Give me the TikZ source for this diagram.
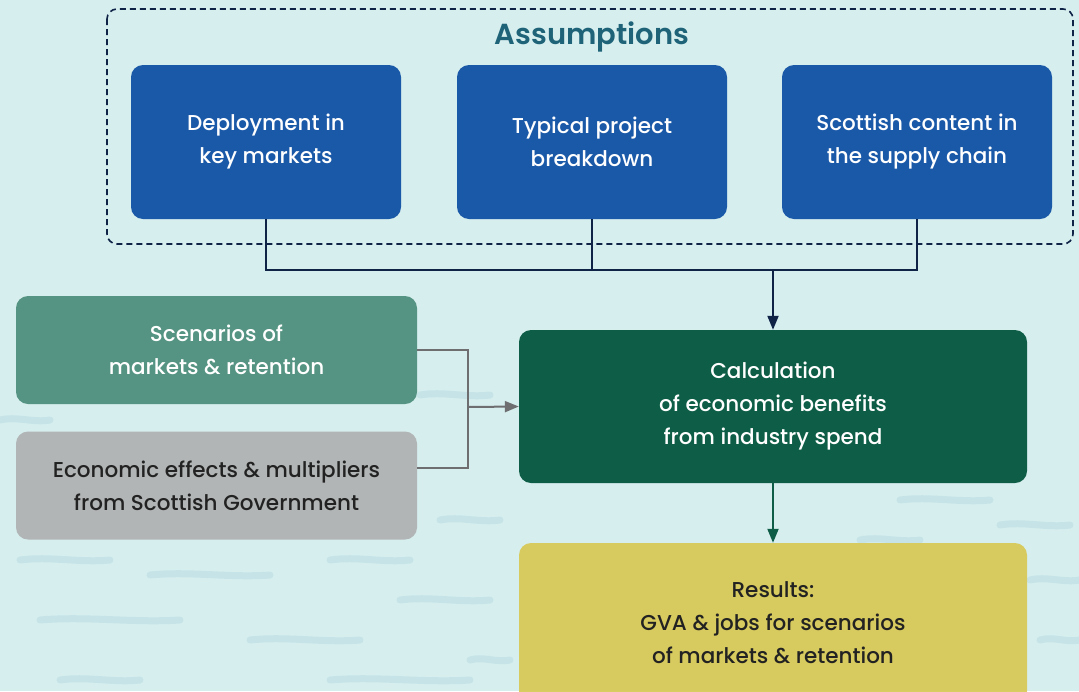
\documentclass[tikz,border=0pt]{standalone}
\usepackage{fontspec}
\setmainfont{Poppins}[UprightFont=* Medium, BoldFont=* SemiBold]
\usetikzlibrary{arrows.meta}
\definecolor{bgsea}{HTML}{D6EEEE}
\definecolor{wavecol}{HTML}{C6E4E7}
\definecolor{navy}{HTML}{0F2347}
\definecolor{tealhead}{HTML}{1E6378}
\definecolor{bluebox}{HTML}{1A58A8}
\definecolor{darkgreen}{HTML}{0E5E47}
\definecolor{midgreen}{HTML}{559482}
\definecolor{greybox}{HTML}{B2B5B5}
\definecolor{greyline}{HTML}{6E6E70}
\definecolor{yellowbox}{HTML}{D8C957}
\definecolor{darktext}{HTML}{222222}

\begin{document}
\begin{tikzpicture}[x=1pt, y=-1pt,
    box/.style={rectangle, rounded corners=12, align=center, font=\fontsize{21.5}{33}\selectfont},
    assume/.style={box, fill=bluebox, text=white, minimum width=270pt, minimum height=154pt},
    side/.style={box, minimum width=401pt, minimum height=108pt},
    wide/.style={box, minimum width=508pt, minimum height=153pt},
    nv/.style={draw=navy, line width=2pt},
    gy/.style={draw=greyline, line width=2pt},
    tip/.style={-{Triangle[length=14pt, width=11pt]}},
    wave/.style={draw=wavecol, line width=7pt, line cap=round}]
        % background
        \fill[bgsea] (0,0) rectangle (1079,691);
        \clip (0,0) rectangle (1079,691);
        \foreach \x/\y/\l in {0/420/50, 60/470/40, 420/395/70, 20/560/90, 150/575/120, 330/560/80,
                              440/520/60, 900/500/90, 1000/525/70, 40/620/140, 250/640/110, 400/600/90,
                              60/680/80, 330/680/140, 1030/580/50, 1040/640/40, 470/660/40, 860/540/60}
            \draw[wave] (\x,\y) .. controls (\x+\l/3,\y-4) and (\x+2*\l/3,\y+3) .. (\x+\l,\y);
        % nodes
        \draw[navy, dash pattern=on 6pt off 4pt, line width=1.6pt, rounded corners=10] (107,9) rectangle (1073,244);
        \node[text=tealhead, font=\fontsize{29}{30}\selectfont\bfseries] (head) at (592,37) {Assumptions};
        \node[assume] (deploy) at (266,142) {Deployment in\\key markets};
        \node[assume] (typical) at (592,142) {Typical project\\breakdown};
        \node[assume] (content) at (917,142) {Scottish content in\\the supply chain};
        \node[side, fill=midgreen, text=white] (scen) at (216.5,350) {Scenarios of\\markets \& retention};
        \node[side, fill=greybox, text=darktext] (econ) at (216.5,485.5) {Economic effects \& multipliers\\from Scottish Government};
        \node[wide, fill=darkgreen, text=white] (calc) at (773,406.5) {Calculation\\of economic benefits\\from industry spend};
        \node[wide, fill=yellowbox, fill opacity=0.95, text opacity=1, text=darktext, minimum height=160pt] (res) at (773,623) {Results:\\GVA \& jobs for scenarios\\of markets \& retention};
        \coordinate (bus) at (773,270);
        \coordinate (merge) at (468,407);
        % edges
        \draw[nv] (deploy.south) |- (bus) -| (content.south);
        \draw[nv] (typical.south) -- (typical.south |- bus);
        \draw[nv, tip] (bus) -- (calc.north);
        \draw[gy] (scen.east) -| (merge) |- ([yshift=18pt]econ.east);
        \draw[gy, tip] (merge) -- (calc.west);
        \draw[draw=darkgreen, line width=2pt, tip] (calc.south) -- (res.north);
    \end{tikzpicture}
\end{document}
